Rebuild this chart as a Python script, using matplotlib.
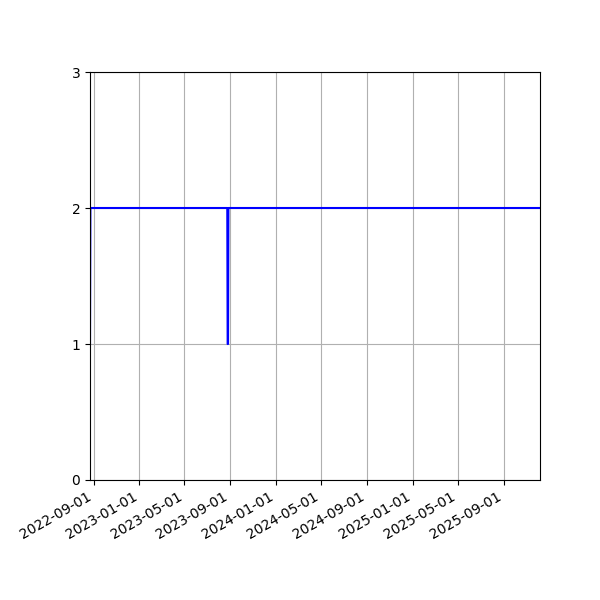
import matplotlib
matplotlib.use("Agg")
import matplotlib.pyplot as plt
import matplotlib.dates as mdates
import pandas as pd

dates = ["2022-08-22", "2022-08-23", "2023-08-24", "2023-08-25",
         "2023-08-26", "2023-08-27", "2025-12-07"]
values = [1, 2, 2, 1, 1, 2, 2]

x = pd.to_datetime(dates)

fig, ax = plt.subplots(figsize=(6, 6), dpi=100)
ax.plot(x, values, color="blue", linewidth=1.5)
ax.set_xlim(x[0], x[-1])
ax.set_ylim(0, 3)
ax.set_yticks([0, 1, 2, 3])
ax.xaxis.set_major_locator(mdates.MonthLocator(bymonth=[1, 5, 9]))
ax.xaxis.set_major_formatter(mdates.DateFormatter("%Y-%m-%d"))
ax.grid(True)
fig.autofmt_xdate()
fig.subplots_adjust(left=0.15, right=0.9, top=0.88, bottom=0.2)
fig.savefig("out.png", dpi=100)
